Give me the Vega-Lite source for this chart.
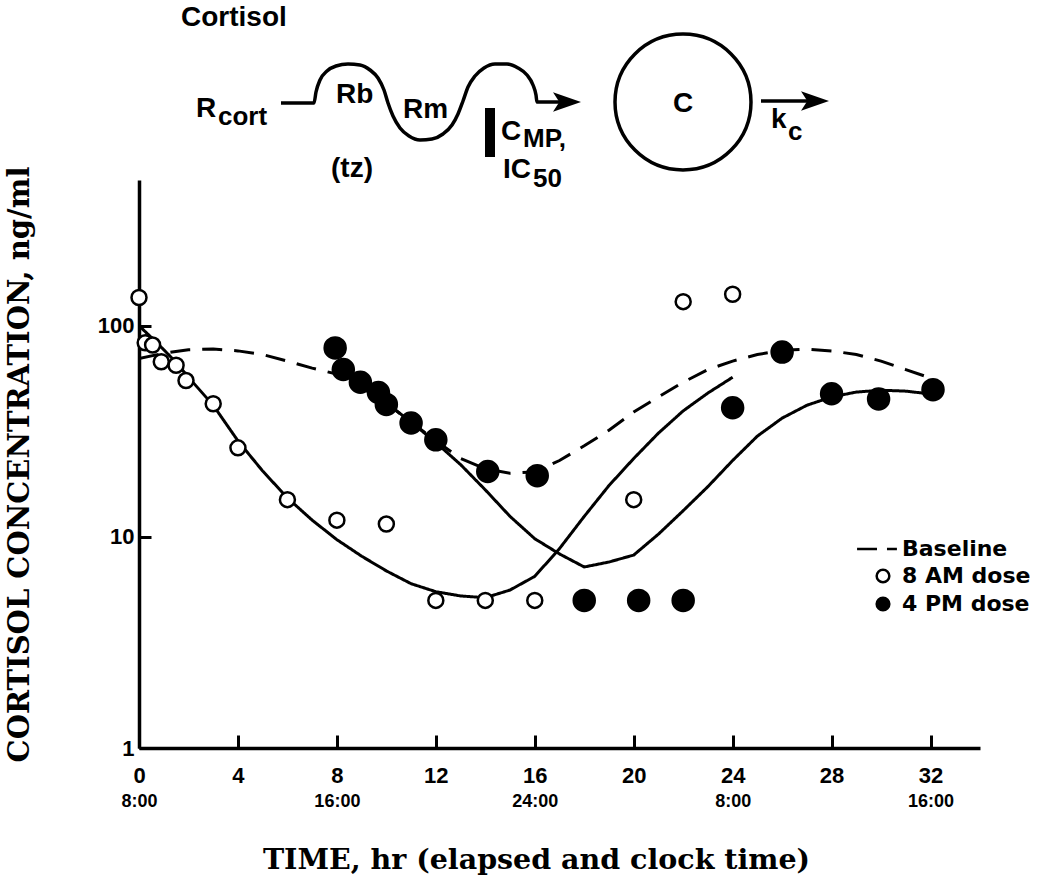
{
  "$schema": "https://vega.github.io/schema/vega-lite/v6.json",
  "background": "white",
  "padding": {"left": 5, "top": 0, "right": 5, "bottom": 5},
  "spacing": 0,
  "bounds": "flush",
  "config": {
    "view": {"stroke": null},
    "axis": {"grid": false, "domainColor": "black", "tickColor": "black", "labelColor": "black", "titleColor": "black", "labelFont": "Liberation Sans", "labelFontWeight": "bold"},
    "legend": {"symbolStrokeWidth": 2.5}
  },
  "datasets": {
    "wave": [
      {"u":14.2,"v":10.3},{"u":17.5,"v":10.3},{"u":17.7,"v":9.2},{"u":18.1,"v":8.0},{"u":18.8,"v":7.1},{"u":19.7,"v":6.6},{"u":20.9,"v":6.4},{"u":22.1,"v":6.5},{"u":23.1,"v":7.0},{"u":23.9,"v":7.8},{"u":24.5,"v":9.0},{"u":24.9,"v":10.3},{"u":25.4,"v":11.6},{"u":26.1,"v":12.8},{"u":27.0,"v":13.6},{"u":28.1,"v":14.0},{"u":29.3,"v":13.9},{"u":30.4,"v":13.4},{"u":31.3,"v":12.5},{"u":31.9,"v":11.4},{"u":32.4,"v":10.1},{"u":32.9,"v":8.7},{"u":33.6,"v":7.6},{"u":34.5,"v":6.8},{"u":35.6,"v":6.4},{"u":36.8,"v":6.4},{"u":37.9,"v":6.8},{"u":38.8,"v":7.5},{"u":39.4,"v":8.5},{"u":39.7,"v":9.5},{"u":39.8,"v":10.2},{"u":42.4,"v":10.2}
    ],
    "arrow2": [{"u":62.2,"v":10.1},{"u":67.0,"v":10.1}],
    "bar": [{"u":35.1,"v":10.8},{"u":35.1,"v":15.7}],
    "heads": [{"u":42.8,"v":10.2},{"u":67.6,"v":10.1}],
    "circle": [{"u":54.4,"v":10.2}],
    "txt": [
      {"u":4.2,"v":2.6,"label":"Cortisol"},
      {"u":5.7,"v":11.7,"label":"R"},
      {"u":19.7,"v":10.3,"label":"Rb"},
      {"u":26.4,"v":11.8,"label":"Rm"},
      {"u":19.2,"v":17.7,"label":"(tz)"},
      {"u":53.4,"v":11.2,"label":"C"},
      {"u":36.2,"v":14.0,"label":"C"},
      {"u":36.4,"v":17.8,"label":"IC"},
      {"u":63.2,"v":12.8,"label":"k"}
    ],
    "subtxt": [
      {"u":7.9,"v":12.5,"label":"cort"},
      {"u":38.4,"v":14.7,"label":"MP,"},
      {"u":39.4,"v":18.7,"label":"50"},
      {"u":64.9,"v":14.0,"label":"c"}
    ],
    "curves": [
      {"curve":"Baseline","t":0,"c":70},{"curve":"Baseline","t":1,"c":74},{"curve":"Baseline","t":2,"c":77},{"curve":"Baseline","t":3,"c":77.5},{"curve":"Baseline","t":4,"c":76},{"curve":"Baseline","t":5,"c":73},{"curve":"Baseline","t":6,"c":68},{"curve":"Baseline","t":7,"c":63},{"curve":"Baseline","t":8,"c":59},{"curve":"Baseline","t":9,"c":51},{"curve":"Baseline","t":10,"c":43},{"curve":"Baseline","t":11,"c":35},{"curve":"Baseline","t":12,"c":28.5},{"curve":"Baseline","t":13,"c":23.5},{"curve":"Baseline","t":14,"c":21},{"curve":"Baseline","t":15,"c":20},{"curve":"Baseline","t":16,"c":20.3},{"curve":"Baseline","t":17,"c":23},{"curve":"Baseline","t":18,"c":27},{"curve":"Baseline","t":19,"c":32},{"curve":"Baseline","t":20,"c":39},{"curve":"Baseline","t":21,"c":46},{"curve":"Baseline","t":22,"c":54},{"curve":"Baseline","t":23,"c":62},{"curve":"Baseline","t":24,"c":68},{"curve":"Baseline","t":25,"c":73},{"curve":"Baseline","t":26,"c":76.5},{"curve":"Baseline","t":27,"c":77.5},{"curve":"Baseline","t":28,"c":76},{"curve":"Baseline","t":29,"c":73},{"curve":"Baseline","t":30,"c":68},{"curve":"Baseline","t":31,"c":62},{"curve":"Baseline","t":32,"c":56.5},
      {"curve":"8 AM model","t":0,"c":100},{"curve":"8 AM model","t":0.5,"c":88},{"curve":"8 AM model","t":1,"c":77},{"curve":"8 AM model","t":1.5,"c":67},{"curve":"8 AM model","t":2,"c":57},{"curve":"8 AM model","t":3,"c":42},{"curve":"8 AM model","t":4,"c":28.5},{"curve":"8 AM model","t":5,"c":20.5},{"curve":"8 AM model","t":6,"c":15.3},{"curve":"8 AM model","t":7,"c":12},{"curve":"8 AM model","t":8,"c":9.7},{"curve":"8 AM model","t":9,"c":8.1},{"curve":"8 AM model","t":10,"c":6.9},{"curve":"8 AM model","t":11,"c":6.0},{"curve":"8 AM model","t":12,"c":5.5},{"curve":"8 AM model","t":13,"c":5.25},{"curve":"8 AM model","t":14,"c":5.15},{"curve":"8 AM model","t":15,"c":5.6},{"curve":"8 AM model","t":16,"c":6.5},{"curve":"8 AM model","t":17,"c":8.8},{"curve":"8 AM model","t":18,"c":12.5},{"curve":"8 AM model","t":19,"c":17.5},{"curve":"8 AM model","t":20,"c":23.5},{"curve":"8 AM model","t":21,"c":31},{"curve":"8 AM model","t":22,"c":39.5},{"curve":"8 AM model","t":23,"c":48},{"curve":"8 AM model","t":24,"c":57},
      {"curve":"4 PM model","t":8,"c":64},{"curve":"4 PM model","t":8.5,"c":60},{"curve":"4 PM model","t":9,"c":53},{"curve":"4 PM model","t":10,"c":43},{"curve":"4 PM model","t":11,"c":35},{"curve":"4 PM model","t":12,"c":28},{"curve":"4 PM model","t":13,"c":22},{"curve":"4 PM model","t":14,"c":16.7},{"curve":"4 PM model","t":15,"c":12.5},{"curve":"4 PM model","t":16,"c":9.8},{"curve":"4 PM model","t":17,"c":8.3},{"curve":"4 PM model","t":18,"c":7.2},{"curve":"4 PM model","t":19,"c":7.6},{"curve":"4 PM model","t":20,"c":8.2},{"curve":"4 PM model","t":21,"c":10.3},{"curve":"4 PM model","t":22,"c":13.3},{"curve":"4 PM model","t":23,"c":17.3},{"curve":"4 PM model","t":24,"c":23},{"curve":"4 PM model","t":25,"c":30},{"curve":"4 PM model","t":26,"c":36.5},{"curve":"4 PM model","t":27,"c":42},{"curve":"4 PM model","t":28,"c":46},{"curve":"4 PM model","t":29,"c":48.5},{"curve":"4 PM model","t":30,"c":49.5},{"curve":"4 PM model","t":31,"c":49},{"curve":"4 PM model","t":32,"c":47.5}
    ],
    "obs": [
      {"dose":"8 AM dose","t":0,"c":136},{"dose":"8 AM dose","t":0.25,"c":83},{"dose":"8 AM dose","t":0.55,"c":81},{"dose":"8 AM dose","t":0.9,"c":67.5},{"dose":"8 AM dose","t":1.5,"c":65},{"dose":"8 AM dose","t":1.9,"c":55},{"dose":"8 AM dose","t":3,"c":42.7},{"dose":"8 AM dose","t":4,"c":26.4},{"dose":"8 AM dose","t":6,"c":15},{"dose":"8 AM dose","t":8,"c":12},{"dose":"8 AM dose","t":10,"c":11.5},{"dose":"8 AM dose","t":12,"c":5},{"dose":"8 AM dose","t":14,"c":5},{"dose":"8 AM dose","t":16,"c":5},{"dose":"8 AM dose","t":20,"c":15},{"dose":"8 AM dose","t":22,"c":130},{"dose":"8 AM dose","t":24,"c":141},
      {"dose":"4 PM dose","t":7.93,"c":78.5},{"dose":"4 PM dose","t":8.26,"c":62},{"dose":"4 PM dose","t":8.95,"c":54},{"dose":"4 PM dose","t":9.68,"c":48.3},{"dose":"4 PM dose","t":10,"c":42.4},{"dose":"4 PM dose","t":11,"c":34.6},{"dose":"4 PM dose","t":12,"c":28.8},{"dose":"4 PM dose","t":14.1,"c":20.4},{"dose":"4 PM dose","t":16.1,"c":19.5},{"dose":"4 PM dose","t":18,"c":5},{"dose":"4 PM dose","t":20.2,"c":5},{"dose":"4 PM dose","t":22,"c":5},{"dose":"4 PM dose","t":24,"c":40.9},{"dose":"4 PM dose","t":26,"c":75},{"dose":"4 PM dose","t":28,"c":47.6},{"dose":"4 PM dose","t":29.9,"c":45},{"dose":"4 PM dose","t":32.1,"c":49.8}
    ]
  },
  "vconcat": [
    {
      "width": 841,
      "height": 180,
      "encoding": {
        "x": {"field": "u", "type": "quantitative", "scale": {"domain": [0, 84.1], "nice": false, "zero": false}, "axis": null},
        "y": {"field": "v", "type": "quantitative", "scale": {"domain": [0, 18], "reverse": true, "nice": false, "zero": false}, "axis": null}
      },
      "layer": [
        {"data": {"name": "wave"}, "mark": {"type": "line", "interpolate": "monotone", "stroke": "black", "strokeWidth": 3.5}},
        {"data": {"name": "arrow2"}, "mark": {"type": "line", "stroke": "black", "strokeWidth": 3.5}},
        {"data": {"name": "bar"}, "mark": {"type": "line", "stroke": "black", "strokeWidth": 10, "strokeCap": "butt"}},
        {"data": {"name": "heads"}, "mark": {"type": "point", "shape": "M1,0L-1,-0.7L-0.55,0L-1,0.7Z", "filled": true, "color": "black", "size": 784, "opacity": 1}},
        {"data": {"name": "circle"}, "mark": {"type": "point", "shape": "circle", "filled": false, "stroke": "black", "strokeWidth": 3.5, "size": 18496, "opacity": 1}},
        {"data": {"name": "txt"}, "mark": {"type": "text", "align": "left", "baseline": "alphabetic", "font": "Liberation Sans", "fontWeight": "bold", "fontSize": 28, "color": "black"}, "encoding": {"text": {"field": "label"}}},
        {"data": {"name": "subtxt"}, "mark": {"type": "text", "align": "left", "baseline": "alphabetic", "font": "Liberation Sans", "fontWeight": "bold", "fontSize": 26, "color": "black"}, "encoding": {"text": {"field": "label"}}}
      ]
    },
    {
      "width": 841,
      "height": 568,
      "layer": [
        {
          "data": {"name": "curves"},
          "mark": {"type": "line", "stroke": "black", "strokeWidth": 3, "clip": true},
          "encoding": {
            "x": {"field": "t", "type": "quantitative", "scale": {"domain": [0, 34], "nice": false, "zero": false},
              "axis": {"values": [0,4,8,12,16,20,24,28,32], "tickSize": -13, "tickWidth": 3, "domainWidth": 3.5, "labelPadding": 30, "labelFontSize": 22, "labelFlush": false, "title": null}},
            "y": {"field": "c", "type": "quantitative", "scale": {"type": "log", "domain": [1, 490], "nice": false},
              "axis": {"values": [1,10,100], "format": "d", "tickSize": -12, "tickWidth": 3, "domainWidth": 3.5, "labelPadding": 17, "labelFontSize": 22, "labelFlush": false,
                "title": "CORTISOL CONCENTRATION, ng/ml", "titleFont": "DejaVu Serif", "titleFontSize": 29, "titleFontWeight": "bold", "titlePadding": 63}},
            "detail": {"field": "curve"},
            "strokeDash": {"field": "curve", "type": "nominal", "scale": {"domain": ["Baseline", "8 AM model", "4 PM model"], "range": [[20, 12], [1, 0], [1, 0]]}, "legend": null}
          }
        },
        {
          "data": {"name": "obs"},
          "mark": {"type": "point", "strokeWidth": 2.5, "opacity": 1},
          "encoding": {
            "x": {"field": "t", "type": "quantitative",
              "axis": {"orient": "bottom", "values": [0,8,16,24,32], "labelExpr": "['8:00','16:00','24:00','8:00','16:00'][datum.value/8]", "ticks": false, "domain": false, "labelPadding": 44, "labelFontSize": 18, "labelFlush": false,
                "title": "TIME, hr (elapsed and clock time)", "titleFont": "DejaVu Serif", "titleFontSize": 28.5, "titleFontWeight": "bold", "titlePadding": 35, "titleX": 397}},
            "y": {"field": "c", "type": "quantitative"},
            "shape": {"field": "dose", "type": "nominal",
              "scale": {"domain": ["Baseline", "8 AM dose", "4 PM dose"], "range": ["M-4.1,0H-0.95M0.63,0H2.2", "circle", "circle"]},
              "legend": {"orient": "none", "legendX": 733, "legendY": 538, "title": null, "labelFont": "DejaVu Sans", "labelFontSize": 22, "labelFontWeight": "bold", "labelColor": "black", "symbolSize": 160, "symbolStrokeWidth": 2.5, "labelOffset": 8, "rowPadding": 4, "padding": 0}},
            "fill": {"field": "dose", "type": "nominal",
              "scale": {"domain": ["Baseline", "8 AM dose", "4 PM dose"], "range": ["white", "white", "black"]},
              "legend": {"orient": "none", "legendX": 733, "legendY": 538, "title": null, "labelFont": "DejaVu Sans", "labelFontSize": 22, "labelFontWeight": "bold", "labelColor": "black", "symbolSize": 160, "symbolStrokeWidth": 2.5, "labelOffset": 8, "rowPadding": 4, "padding": 0}},
            "stroke": {"field": "dose", "type": "nominal",
              "scale": {"domain": ["Baseline", "8 AM dose", "4 PM dose"], "range": ["black", "black", "black"]},
              "legend": {"orient": "none", "legendX": 733, "legendY": 538, "title": null, "labelFont": "DejaVu Sans", "labelFontSize": 22, "labelFontWeight": "bold", "labelColor": "black", "symbolSize": 160, "symbolStrokeWidth": 2.5, "labelOffset": 8, "rowPadding": 4, "padding": 0}},
            "size": {"condition": {"test": "datum.dose === '4 PM dose'", "value": 441}, "value": 225}
          }
        }
      ],
      "resolve": {"axis": {"x": "independent"}}
    }
  ]
}
